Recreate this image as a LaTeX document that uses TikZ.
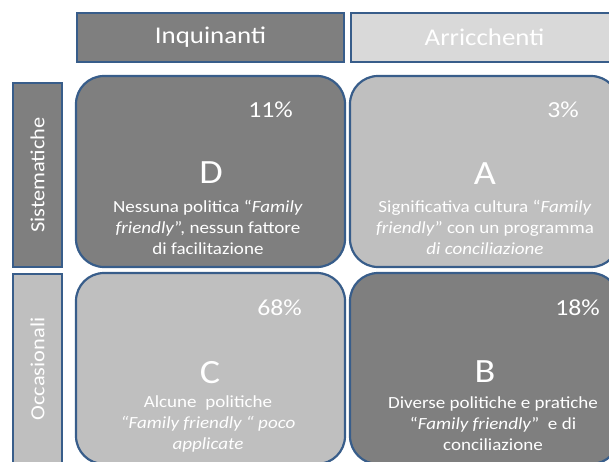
\documentclass[tikz,border=0pt]{standalone}
\usepackage{fontspec}
\setmainfont{Carlito}[FakeStretch=1.12]
\definecolor{scuro}{RGB}{127,127,127}
\definecolor{chiaro}{RGB}{191,191,191}
\definecolor{chiarissimo}{RGB}{217,217,217}
\definecolor{bordo}{RGB}{56,93,138}
\tikzset{
	intestazione/.style={draw=bordo,line width=2.5pt,minimum width=267pt,minimum height=49pt,inner sep=0pt,text=white,font=\fontsize{24}{29}\selectfont},
	fianco/.style={draw=bordo,line width=2.5pt,minimum height=49pt,inner sep=0pt,text=white,rotate=90,font=\fontsize{20}{24}\selectfont},
	quadrante/.style={draw=bordo,line width=2.2pt,rounded corners=28pt,minimum width=269pt,minimum height=191pt,inner sep=0pt},
	perc/.style={anchor=east,inner sep=0pt,text=white,font=\fontsize{23}{28}\selectfont},
	lettera/.style={inner sep=0pt,text=white,font=\fontsize{34}{40}\selectfont},
	descr/.style={inner sep=0pt,align=center,text=white,font=\fontsize{17}{21}\selectfont}
}
\begin{document}
\begin{tikzpicture}[x=1pt,y=-1pt]
		\useasboundingbox (0,0) rectangle (609,461);
		\clip (0,0) rectangle (609,461);

		\node[intestazione,fill=scuro] (inq) at (210.5,37.5) {Inquinanti};
		\node[intestazione,fill=chiarissimo] (arr) at (484.5,37.5) {Arricchenti};
		\node[fianco,fill=scuro,minimum width=184pt] (sist) at (37.5,175) {Sistematiche};
		\node[fianco,fill=chiaro,minimum width=190pt] (occ) at (37.5,369) {Occasionali};

		\node[quadrante,fill=scuro] (D) at (210.5,171.5) {};
		\node[quadrante,fill=chiaro] (A) at (484.5,171.5) {};
		\node[quadrante,fill=chiaro] (C) at (210.5,368.5) {};
		\node[quadrante,fill=scuro] (B) at (484.5,368.5) {};

		\node[perc] (D-perc) at (293,110) {11\%};
		\node[perc] (A-perc) at (579,110) {3\%};
		\node[perc] (C-perc) at (302,308) {68\%};
		\node[perc] (B-perc) at (600,308) {18\%};

		\node[lettera] (D-let) at (211,173) {D};
		\node[lettera] (A-let) at (485,174) {A};
		\node[lettera] (C-let) at (210,373) {C};
		\node[lettera] (B-let) at (485,372) {B};

		\node[descr] (D-txt) at (208,227) {Nessuna politica “\textit{Family}\\ \textit{friendly}”, nessun fattore\\ di facilitazione};
		\node[descr] (A-txt) at (485,227) {Significativa cultura “\textit{Family}\\ \textit{friendly}” con un programma\\ \textit{di conciliazione}};
		\node[descr] (C-txt) at (208,424) {Alcune\ \ politiche\\ \textit{“Family friendly “ poco}\\ \textit{applicate}};
		\node[descr] (B-txt) at (493,424) {Diverse politiche e pratiche\\ “\textit{Family friendly}”\ \ e di\\ conciliazione};
	\end{tikzpicture}
\end{document}
